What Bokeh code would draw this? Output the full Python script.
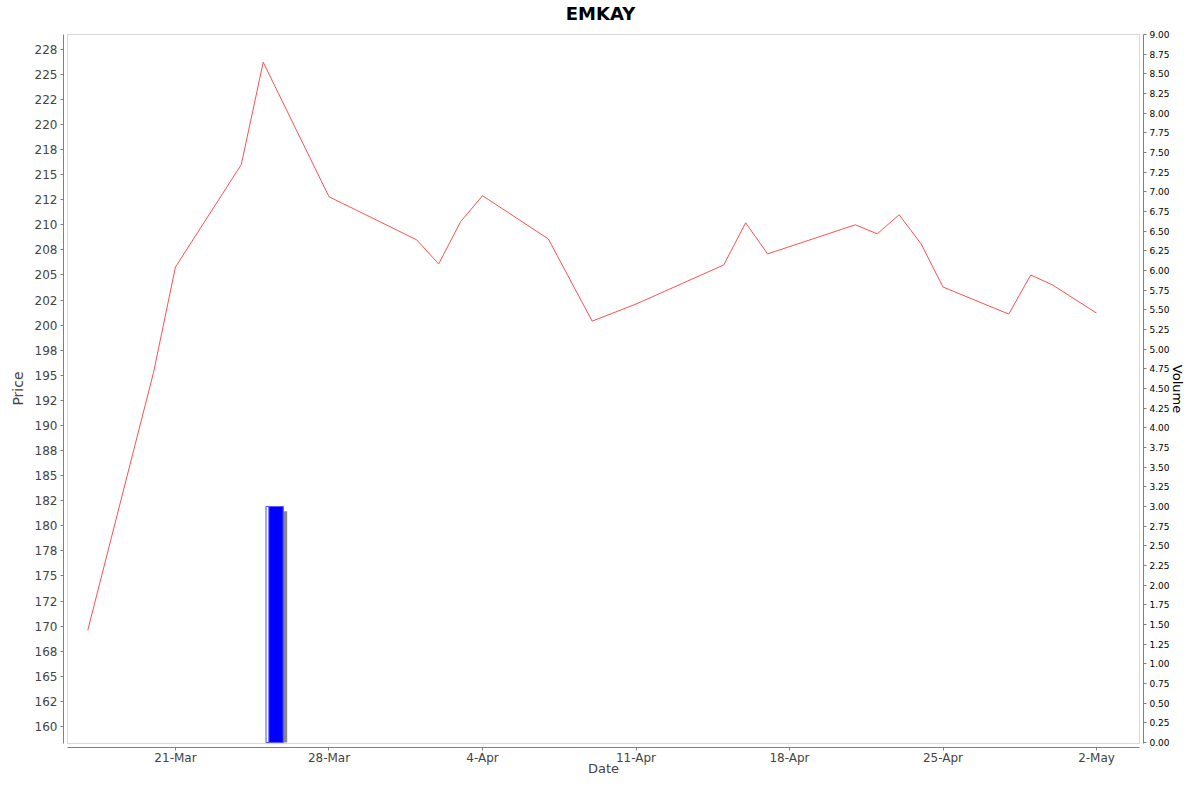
import pandas as pd
from bokeh.plotting import figure
from bokeh.models import (Range1d, LinearAxis, FixedTicker, NumeralTickFormatter,
                          BoxAnnotation, Label)
from bokeh.embed import file_html
from bokeh.resources import INLINE

# ---------------- data ----------------
title_text = "EMKAY"
x_title, y_title, y2_title = "Date", "Price", "Volume"
dates = ["2016-03-17", "2016-03-20", "2016-03-21", "2016-03-24", "2016-03-25",
         "2016-03-28", "2016-04-01", "2016-04-02", "2016-04-03", "2016-04-04",
         "2016-04-07", "2016-04-09", "2016-04-11", "2016-04-15", "2016-04-16",
         "2016-04-17", "2016-04-21", "2016-04-22", "2016-04-23", "2016-04-24",
         "2016-04-25", "2016-04-28", "2016-04-29", "2016-04-30", "2016-05-02"]
prices = [169.6, 195.3, 205.8, 216.0, 226.2,
          212.8, 208.5, 206.1, 210.3, 212.9,
          208.6, 200.4, 202.1, 206.0, 210.2,
          207.1, 210.0, 209.1, 211.0, 208.1,
          203.8, 201.1, 205.0, 204.0, 201.2]
vol_dates = ["2016-03-25"]
volumes = [3.0]

price_ticks = [160.0, 162.5, 165.0, 167.5, 170.0, 172.5, 175.0, 177.5, 180.0, 182.5,
               185.0, 187.5, 190.0, 192.5, 195.0, 197.5, 200.0, 202.5, 205.0, 207.5,
               210.0, 212.5, 215.0, 217.5, 220.0, 222.5, 225.0, 227.5]
price_tick_labels = ["160", "162", "165", "168", "170", "172", "175", "178", "180", "182",
                     "185", "188", "190", "192", "195", "198", "200", "202", "205", "208",
                     "210", "212", "215", "218", "220", "222", "225", "228"]
volume_ticks = [0.0, 0.25, 0.5, 0.75, 1.0, 1.25, 1.5, 1.75, 2.0, 2.25, 2.5, 2.75,
                3.0, 3.25, 3.5, 3.75, 4.0, 4.25, 4.5, 4.75, 5.0, 5.25, 5.5, 5.75,
                6.0, 6.25, 6.5, 6.75, 7.0, 7.25, 7.5, 7.75, 8.0, 8.25, 8.5, 8.75, 9.0]
date_ticks = ["2016-03-21", "2016-03-28", "2016-04-04", "2016-04-11",
              "2016-04-18", "2016-04-25", "2016-05-02"]
date_tick_labels = ["21-Mar", "28-Mar", "4-Apr", "11-Apr", "18-Apr", "25-Apr", "2-May"]

# ---------------- layout constants ----------------
FONT = "DejaVu Sans"
GRAY = "#808080"
BASE = pd.Timestamp("2016-03-21")
X0, X1 = -5.107, 46.012          # frame extent, days from BASE
PX0, PX1 = -4.925, 43.96         # plot-area extent, days from BASE
RAXIS_X = 44.142                 # right axis position, days from BASE
Y0, Y1 = 155.017, 232.355        # frame extent, price
PY0, PY1 = 158.306, 228.966      # plot-area extent, price
XAXIS_Y = 157.907                # bottom axis position, price
V0, V1 = -0.4322, 9.432          # frame extent, volume
PV0, PV1 = -0.0127, 9.0          # plot-area extent, volume


def day(d):
    return BASE + pd.Timedelta(days=d)


def ms(ts):
    return ts.value / 1e6


x_dates = pd.to_datetime(dates)
vd = pd.to_datetime(vol_dates)

p = figure(width=1184, height=776, x_axis_type="datetime", title=None,
           output_backend="svg", toolbar_location=None,
           x_range=Range1d(day(X0), day(X1)),
           y_range=Range1d(Y0, Y1),
           min_border_left=63, min_border_right=0,
           min_border_top=0, min_border_bottom=0)
p.extra_y_ranges = {"vol": Range1d(V0, V1)}
p.outline_line_color = None
p.xgrid.visible = False
p.ygrid.visible = False
p.background_fill_color = "white"
p.border_fill_color = "white"

# plot area outline
p.add_layout(BoxAnnotation(left=ms(day(PX0)), right=ms(day(PX1)),
                           bottom=PY0, top=PY1,
                           fill_alpha=0, line_color=GRAY, line_width=1))

# volume bar: shadow, outline, fill
BAR_EDGE_L, BAR_FILL_L, BAR_R, SHADOW_R, SHADOW_DROP = 0.128, 0.255, 0.912, 1.094, 0.06
p.quad(left=[d + pd.Timedelta(days=BAR_FILL_L + 0.18) for d in vd],
       right=[d + pd.Timedelta(days=SHADOW_R) for d in vd],
       top=[v - SHADOW_DROP for v in volumes], bottom=0,
       y_range_name="vol", fill_color="#888888", line_color=None)
p.quad(left=[d + pd.Timedelta(days=BAR_EDGE_L) for d in vd],
       right=[d + pd.Timedelta(days=BAR_R) for d in vd],
       top=volumes, bottom=0, y_range_name="vol",
       fill_color=None, line_color="#4a4aff", line_width=1)
p.quad(left=[d + pd.Timedelta(days=BAR_FILL_L) for d in vd],
       right=[d + pd.Timedelta(days=BAR_R) for d in vd],
       top=volumes, bottom=0, y_range_name="vol",
       fill_color="#0000ff", line_color="#6060ff", line_width=1)

# price line
p.line(x_dates, prices, line_color="#ff5050", line_width=1)


def style_axis(ax, label, label_size, label_color, label_standoff,
               tick_size, tick_color, tick_standoff):
    ax.axis_label = label
    ax.axis_label_text_font = FONT
    ax.axis_label_text_font_size = label_size
    ax.axis_label_text_font_style = "normal"
    ax.axis_label_text_color = label_color
    ax.axis_label_standoff = label_standoff
    ax.major_label_text_font = FONT
    ax.major_label_text_font_size = tick_size
    ax.major_label_text_color = tick_color
    ax.major_label_standoff = tick_standoff
    ax.axis_line_color = GRAY
    ax.major_tick_line_color = GRAY
    ax.major_tick_out = 3
    ax.major_tick_in = 0
    ax.minor_tick_line_color = None


# left axis
ya = p.yaxis[0]
ya.ticker = FixedTicker(ticks=price_ticks)
ya.major_label_overrides = dict(zip(price_ticks, price_tick_labels))
ya.bounds = (PY0, PY1)
style_axis(ya, y_title, "14px", "#444444", 6, "12px", "#444444", 3)

# bottom axis (drawn 4px below the plot area)
xa = p.xaxis[0]
tick_ms = [ms(pd.Timestamp(d)) for d in date_ticks]
xa.ticker = FixedTicker(ticks=tick_ms)
xa.major_label_overrides = dict(zip(tick_ms, date_tick_labels))
xa.bounds = (ms(day(PX0)), ms(day(PX1)))
xa.fixed_location = XAXIS_Y
style_axis(xa, x_title, "13px", "#444444", -7, "12px", "#444444", 0)

# right axis (drawn 4px right of the plot area)
ra = LinearAxis(y_range_name="vol")
ra.ticker = FixedTicker(ticks=volume_ticks)
ra.formatter = NumeralTickFormatter(format="0.00")
ra.bounds = (PV0, PV1)
ra.fixed_location = ms(day(RAXIS_X))
style_axis(ra, y2_title, "13px", "black", -3, "9px", "black", 3)
p.add_layout(ra, "right")

# chart title
PX_PER_PRICE = 10.034
p.add_layout(Label(x=ms(day(19.38)), y=PY1 + 21 / PX_PER_PRICE, text=title_text,
                   text_font=FONT, text_font_size="18px", text_font_style="bold",
                   text_color="black", text_align="center", text_baseline="middle"))

open("out.html", "w").write(file_html(p, INLINE))
